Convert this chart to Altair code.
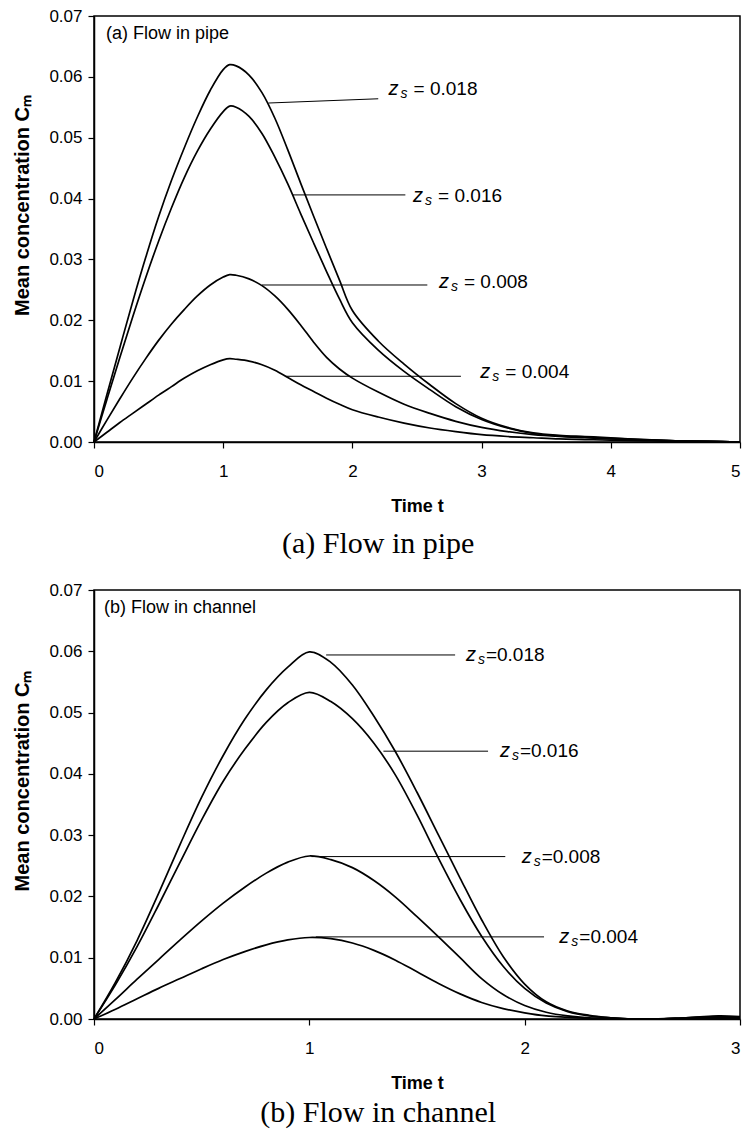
import altair as alt
import pandas as pd

# ---------------- data: (a) flow in pipe ----------------
pipe_t = [0, 0.1, 0.2, 0.3, 0.4, 0.5, 0.6, 0.7, 0.8, 0.9, 1.0, 1.05, 1.1, 1.2, 1.3, 1.4, 1.5, 1.6, 1.7, 1.8,
          1.9, 2.0, 2.2, 2.4, 2.6, 2.8, 3.0, 3.2, 3.4, 3.6, 3.8, 4.0, 4.25, 4.5, 4.75, 5.0]
pipe_018 = [0, 0.0078, 0.0155, 0.0231, 0.0303, 0.0370, 0.0430, 0.0484, 0.0534, 0.0578, 0.0612, 0.0620, 0.0618,
            0.0603, 0.0574, 0.0532, 0.0480, 0.0425, 0.0371, 0.0318, 0.0266, 0.0216, 0.0166, 0.0128, 0.0094,
            0.0063, 0.0039, 0.0024, 0.0015, 0.0011, 0.0009, 0.0007, 0.0004, 0.0002, 0.0001, 0]
pipe_016 = [0, 0.0070, 0.0139, 0.0206, 0.0270, 0.0330, 0.0385, 0.0435, 0.0478, 0.0514, 0.0543, 0.0552, 0.0550,
            0.0535, 0.0507, 0.0468, 0.0424, 0.0375, 0.0327, 0.0280, 0.0235, 0.0196, 0.0151, 0.0116, 0.0086,
            0.0058, 0.0037, 0.0023, 0.0014, 0.0010, 0.0008, 0.0006, 0.0004, 0.0002, 0.0001, 0]
pipe_008 = [0, 0.0036, 0.0071, 0.0105, 0.0137, 0.0167, 0.0194, 0.0218, 0.0240, 0.0258, 0.0271, 0.0275, 0.0274,
            0.0268, 0.0257, 0.0240, 0.0218, 0.0192, 0.0164, 0.0139, 0.0120, 0.0105, 0.0082, 0.0062, 0.0047,
            0.0034, 0.0024, 0.0017, 0.0012, 0.0009, 0.0007, 0.0005, 0.0003, 0.0002, 0.0001, 0]
pipe_004 = [0, 0.0016, 0.0032, 0.0047, 0.0062, 0.0077, 0.0091, 0.0105, 0.0117, 0.0127, 0.0135, 0.0137, 0.0136,
            0.0133, 0.0127, 0.0118, 0.0106, 0.0094, 0.0083, 0.0072, 0.0062, 0.0053, 0.0041, 0.0031, 0.0023,
            0.0017, 0.0012, 0.0009, 0.0007, 0.0005, 0.0004, 0.0003, 0.0002, 0.0001, 0.0001, 0]

pipe_lab_zs = ["0.018", "0.016", "0.008", "0.004"]
pipe_lab_text = ["= 0.018", "= 0.016", "= 0.008", "= 0.004"]
pipe_lead_t1 = [1.35, 1.54, 1.30, 1.48]
pipe_lead_t2 = [2.20, 2.41, 2.58, 2.84]
pipe_lead_c1 = [0.0557, 0.0406, 0.0258, 0.0108]
pipe_lead_c2 = [0.0564, 0.0406, 0.0258, 0.0108]
pipe_lab_t = [2.28, 2.47, 2.67, 2.99]
pipe_lab_c = [0.0580, 0.0405, 0.0263, 0.0115]

# ---------------- data: (b) flow in channel ----------------
chan_t = [0, 0.1, 0.2, 0.3, 0.4, 0.5, 0.6, 0.7, 0.8, 0.9, 1.0, 1.1, 1.2, 1.3, 1.4, 1.5, 1.6, 1.7, 1.8, 1.9,
          2.0, 2.1, 2.2, 2.3, 2.4, 2.5, 2.6, 2.7, 2.8, 2.9, 3.0]
chan_018 = [0, 0.0060, 0.0128, 0.0205, 0.0285, 0.0362, 0.0430, 0.0489, 0.0537, 0.0574, 0.0599, 0.0582,
            0.0545, 0.0494, 0.0436, 0.0370, 0.0300, 0.0230, 0.0162, 0.0102, 0.0057, 0.0028, 0.0013, 0.0006,
            0.0002, 0.0000, 0.0000, 0.0001, 0.0003, 0.0005, 0.0004]
chan_016 = [0, 0.0056, 0.0118, 0.0186, 0.0256, 0.0325, 0.0388, 0.0440, 0.0484, 0.0516, 0.0533, 0.0518,
            0.0490, 0.0450, 0.0398, 0.0333, 0.0262, 0.0195, 0.0135, 0.0086, 0.0050, 0.0026, 0.0012, 0.0005,
            0.0002, 0.0000, 0.0000, 0.0001, 0.0003, 0.0004, 0.0003]
chan_008 = [0, 0.0032, 0.0065, 0.0097, 0.0129, 0.0160, 0.0189, 0.0215, 0.0238, 0.0256, 0.0266, 0.0260,
            0.0247, 0.0226, 0.0199, 0.0167, 0.0134, 0.0100, 0.0066, 0.0040, 0.0022, 0.0011, 0.0005, 0.0002,
            0.0001, 0.0000, 0.0000, 0.0001, 0.0002, 0.0002, 0.0002]
chan_004 = [0, 0.0016, 0.0033, 0.0050, 0.0066, 0.0082, 0.0097, 0.0110, 0.0121, 0.0129, 0.0133, 0.0131,
            0.0124, 0.0112, 0.0096, 0.0077, 0.0058, 0.0041, 0.0027, 0.0017, 0.0010, 0.0005, 0.0003, 0.0001,
            0.0001, 0.0000, 0.0000, 0.0001, 0.0001, 0.0001, 0.0001]

chan_lab_zs = ["0.018", "0.016", "0.008", "0.004"]
chan_lab_text = ["=0.018", "=0.016", "=0.008", "=0.004"]
chan_lead_t1 = [1.078, 1.344, 1.01, 1.03]
chan_lead_t2 = [1.677, 1.83, 1.91, 2.09]
chan_lead_c1 = [0.0594, 0.0437, 0.0265, 0.0134]
chan_lead_c2 = [0.0594, 0.0437, 0.0265, 0.0134]
chan_lab_t = [1.727, 1.885, 1.986, 2.161]
chan_lab_c = [0.0594, 0.0437, 0.0265, 0.0134]

y_ticks = [0, 0.01, 0.02, 0.03, 0.04, 0.05, 0.06, 0.07]

SANS = "Liberation Sans"
SERIF = "Liberation Serif"
YTITLE = "Mean concentration Cₘ"
XTITLE = "Time t"
PLOT_W = 646


def panel(t, series, lab_zs, lab_text, l_t1, l_t2, l_c1, l_c2, lab_t, lab_c,
          inner_title, inner_t, caption, cap_offset, xmax, height, s_dx, v_dx):
    rows = []
    for name, vals in series.items():
        for ti, ci in zip(t, vals):
            rows.append({"t": ti, "c": ci, "zs": name})
    df = pd.DataFrame(rows)
    lead = pd.DataFrame({"t": l_t1, "t2": l_t2, "c": l_c1, "c2": l_c2})
    labs = pd.DataFrame({"t": lab_t, "c": lab_c, "z": ["z"] * len(lab_t),
                         "s": ["s"] * len(lab_t), "v": lab_text, "zs": lab_zs})
    ttl = pd.DataFrame({"t": [inner_t], "c": [0.0670], "txt": [inner_title]})

    xs = alt.Scale(domain=[0, xmax], nice=False, zero=False)
    ys = alt.Scale(domain=[0, 0.07], nice=False)
    X = alt.X("t:Q", scale=xs, title=XTITLE,
              axis=alt.Axis(values=list(range(0, xmax + 1)), format="d"))
    Y = alt.Y("c:Q", scale=ys, title=YTITLE,
              axis=alt.Axis(values=y_ticks, format=".2f", titleY=height / 2 - 24))

    curves = alt.Chart(df).mark_line(color="black", strokeWidth=1.7,
                                     interpolate="catmull-rom").encode(
        x=X, y=Y, detail="zs:N")
    leaders = alt.Chart(lead).mark_rule(color="black", strokeWidth=1).encode(
        x=X, x2="t2:Q", y=Y, y2="c2:Q")
    ztxt = alt.Chart(labs).mark_text(font=SANS, fontSize=20, fontStyle="italic",
                                     align="left", baseline="middle",
                                     color="black").encode(x=X, y=Y, text="z:N")
    stxt = alt.Chart(labs).mark_text(font=SANS, fontSize=14, fontStyle="italic",
                                     align="left", baseline="middle", dx=s_dx, dy=5,
                                     color="black").encode(x=X, y=Y, text="s:N")
    vtxt = alt.Chart(labs).mark_text(font=SANS, fontSize=19, align="left",
                                     baseline="middle", dx=v_dx,
                                     color="black").encode(x=X, y=Y, text="v:N")
    itxt = alt.Chart(ttl).mark_text(font=SANS, fontSize=18, align="left",
                                    baseline="middle",
                                    color="black").encode(x=X, y=Y, text="txt:N")
    return alt.layer(curves, leaders, ztxt, stxt, vtxt, itxt).properties(
        width=PLOT_W, height=height,
        title=alt.TitleParams(caption, orient="bottom", font=SERIF, fontSize=30,
                              fontWeight="normal", color="black", frame="bounds",
                              anchor="middle", offset=cap_offset))


top = panel(pipe_t, {"0.018": pipe_018, "0.016": pipe_016, "0.008": pipe_008, "0.004": pipe_004},
            pipe_lab_zs, pipe_lab_text, pipe_lead_t1, pipe_lead_t2, pipe_lead_c1, pipe_lead_c2,
            pipe_lab_t, pipe_lab_c, "(a) Flow in pipe", 0.092, "(a) Flow in pipe", 14, 5, 426, 12, 25)
bot = panel(chan_t, {"0.018": chan_018, "0.016": chan_016, "0.008": chan_008, "0.004": chan_004},
            chan_lab_zs, chan_lab_text, chan_lead_t1, chan_lead_t2, chan_lead_c1, chan_lead_c2,
            chan_lab_t, chan_lab_c, "(b) Flow in channel", 0.046, "(b) Flow in channel", 6, 3, 429, 12, 20)

chart = alt.vconcat(top, bot, spacing=20).properties(
    padding={"left": 4, "top": -2, "right": 0, "bottom": 0}
).configure_view(stroke="black", strokeWidth=1.5).configure_axis(
    grid=False, domainColor="black", domainWidth=1.5, tickColor="black",
    tickSize=6, tickWidth=1.2, labelFont=SANS, labelFontSize=17, labelColor="black",
    titleFont=SANS, titleFontSize=18, titleFontWeight="bold", titleColor="black"
).configure_axisY(labelPadding=6, titlePadding=16, titleFontSize=20).configure_axisX(
    labelPadding=15, titlePadding=18)

chart.save("out.html", embed_options={"renderer": "svg", "actions": False})
